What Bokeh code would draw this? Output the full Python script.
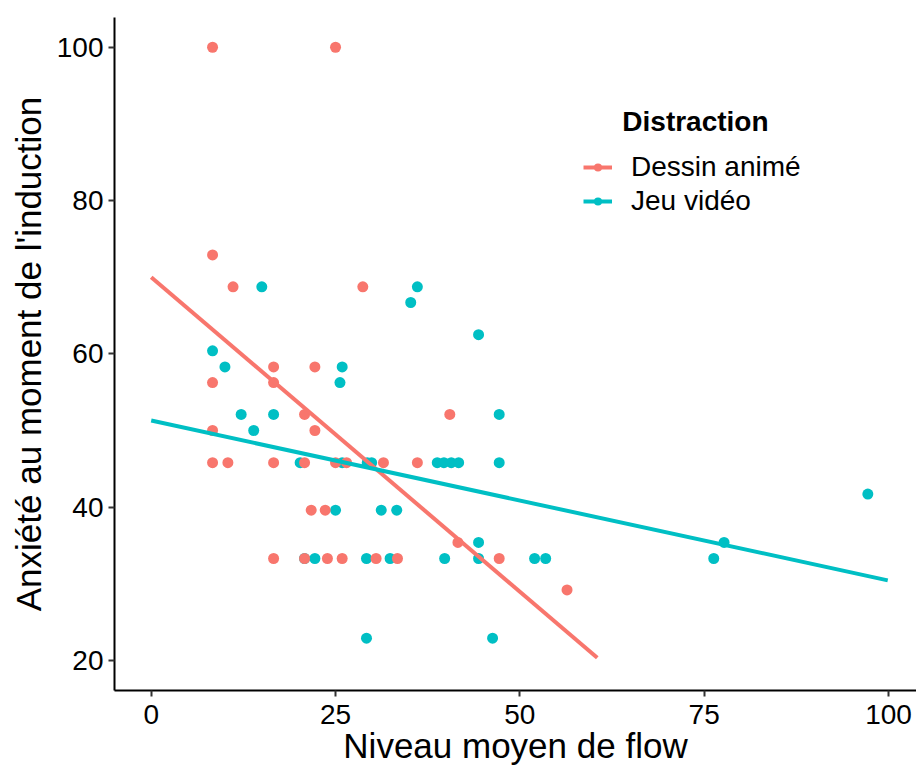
import math
from bokeh.plotting import figure
from bokeh.models import Range1d, Legend, LegendItem, Label, FixedTicker
from bokeh.embed import file_html
from bokeh.resources import INLINE

# ---- data ----
dessin_x = [8.32, 25.0, 8.32, 11.1, 28.7,
            16.6, 22.2, 8.32, 16.6, 20.8, 40.5,
            8.32, 22.2,
            8.32, 10.4, 16.6, 20.8, 25.0, 26.5, 31.5, 36.1,
            21.7, 23.6,
            41.6,
            16.6, 20.8, 23.9, 25.9, 30.5, 33.4, 47.2,
            56.4]
dessin_y = [100.0, 100.0, 72.9, 68.75, 68.75,
            58.3, 58.3, 56.25, 56.25, 52.1, 52.1,
            50.0, 50.0,
            45.8, 45.8, 45.8, 45.8, 45.8, 45.8, 45.8, 45.8,
            39.6, 39.6,
            35.4,
            33.3, 33.3, 33.3, 33.3, 33.3, 33.3, 33.3,
            29.2]

jeu_x = [15.0, 36.1, 35.2, 44.4,
         8.32, 10.0, 25.9, 25.6,
         12.2, 16.6, 47.2,
         13.9,
         20.2, 25.9, 29.3, 29.9, 38.8, 39.7, 40.7, 41.7, 47.2,
         97.2,
         25.0, 31.2, 33.3,
         44.4, 77.7,
         20.8, 22.2, 29.2, 32.4, 39.8, 44.4, 52.0, 53.5, 76.3,
         29.2, 46.3]
jeu_y = [68.75, 68.75, 66.7, 62.5,
         60.4, 58.3, 58.3, 56.25,
         52.1, 52.1, 52.1,
         50.0,
         45.8, 45.8, 45.8, 45.8, 45.8, 45.8, 45.8, 45.8, 45.8,
         41.7,
         39.6, 39.6, 39.6,
         35.4, 35.4,
         33.3, 33.3, 33.3, 33.3, 33.3, 33.3, 33.3, 33.3, 33.3,
         22.9, 22.9]

# linear fits (end points)
dessin_fit_x = [0.0, 60.5]
dessin_fit_y = [70.0, 20.35]
jeu_fit_x = [0.0, 99.9]
jeu_fit_y = [51.3, 30.45]

x_ticks = [0, 25, 50, 75, 100]
y_ticks = [20, 40, 60, 80, 100]

series_names = ["Dessin animé", "Jeu vidéo"]
legend_title = "Distraction"
x_title = "Niveau moyen de flow"
y_title = "Anxiété au moment de l'induction"

RED = "#F8766D"
CYAN = "#00BFC4"
FONT = "Liberation Sans"

p = figure(width=916, height=767, output_backend="svg", toolbar_location=None,
           x_range=Range1d(-4.98, 103.8), y_range=Range1d(16.08, 103.88),
           min_border_left=114, min_border_right=0, min_border_top=17,
           min_border_bottom=77)
p.grid.visible = False
p.outline_line_color = None
p.background_fill_color = "white"

for ax in (p.xaxis, p.yaxis):
    ax.axis_line_width = 2
    ax.axis_line_color = "black"
    ax.major_tick_line_width = 2
    ax.major_tick_line_color = "#333333"
    ax.major_tick_out = 6
    ax.major_tick_in = 0
    ax.minor_tick_out = 0
    ax.minor_tick_in = 0
    ax.major_label_text_font_size = "28px"
    ax.major_label_text_font = FONT
    ax.major_label_text_color = "black"
    ax.major_label_standoff = 5
    ax.axis_label_text_font = FONT
    ax.axis_label_text_font_size = "35px"
    ax.axis_label_text_font_style = "normal"
    ax.axis_label_text_color = "black"
p.xaxis.ticker = FixedTicker(ticks=x_ticks)
p.yaxis.ticker = FixedTicker(ticks=y_ticks)
p.xaxis.axis_label = x_title
p.yaxis.axis_label = y_title
p.xaxis.major_label_standoff = 8
p.xaxis.axis_label_standoff = -1
p.yaxis.axis_label_standoff = 6

jeu_pts = p.scatter(jeu_x, jeu_y, size=11, color=CYAN, line_color=None)
dessin_pts = p.scatter(dessin_x, dessin_y, size=11, color=RED, line_color=None)
dessin_line = p.line(dessin_fit_x, dessin_fit_y, line_width=4, color=RED)
jeu_line = p.line(jeu_fit_x, jeu_fit_y, line_width=4, color=CYAN)

legend = Legend(items=[LegendItem(label=series_names[0], renderers=[dessin_line, dessin_pts]),
                       LegendItem(label=series_names[1], renderers=[jeu_line, jeu_pts])],
                location=(469, 473), glyph_width=29, glyph_height=20,
                label_standoff=19, spacing=2, padding=0, margin=0,
                border_line_color=None, background_fill_alpha=0,
                label_text_font_size="28px", label_text_font=FONT,
                label_text_color="black")
p.add_layout(legend)

p.add_layout(Label(x=63.9, y=90.35, text=legend_title, text_font=FONT,
                   text_font_size="28px", text_font_style="bold",
                   text_align="left", text_baseline="alphabetic", text_color="black"))

open("out.html", "w").write(file_html(p, INLINE))
